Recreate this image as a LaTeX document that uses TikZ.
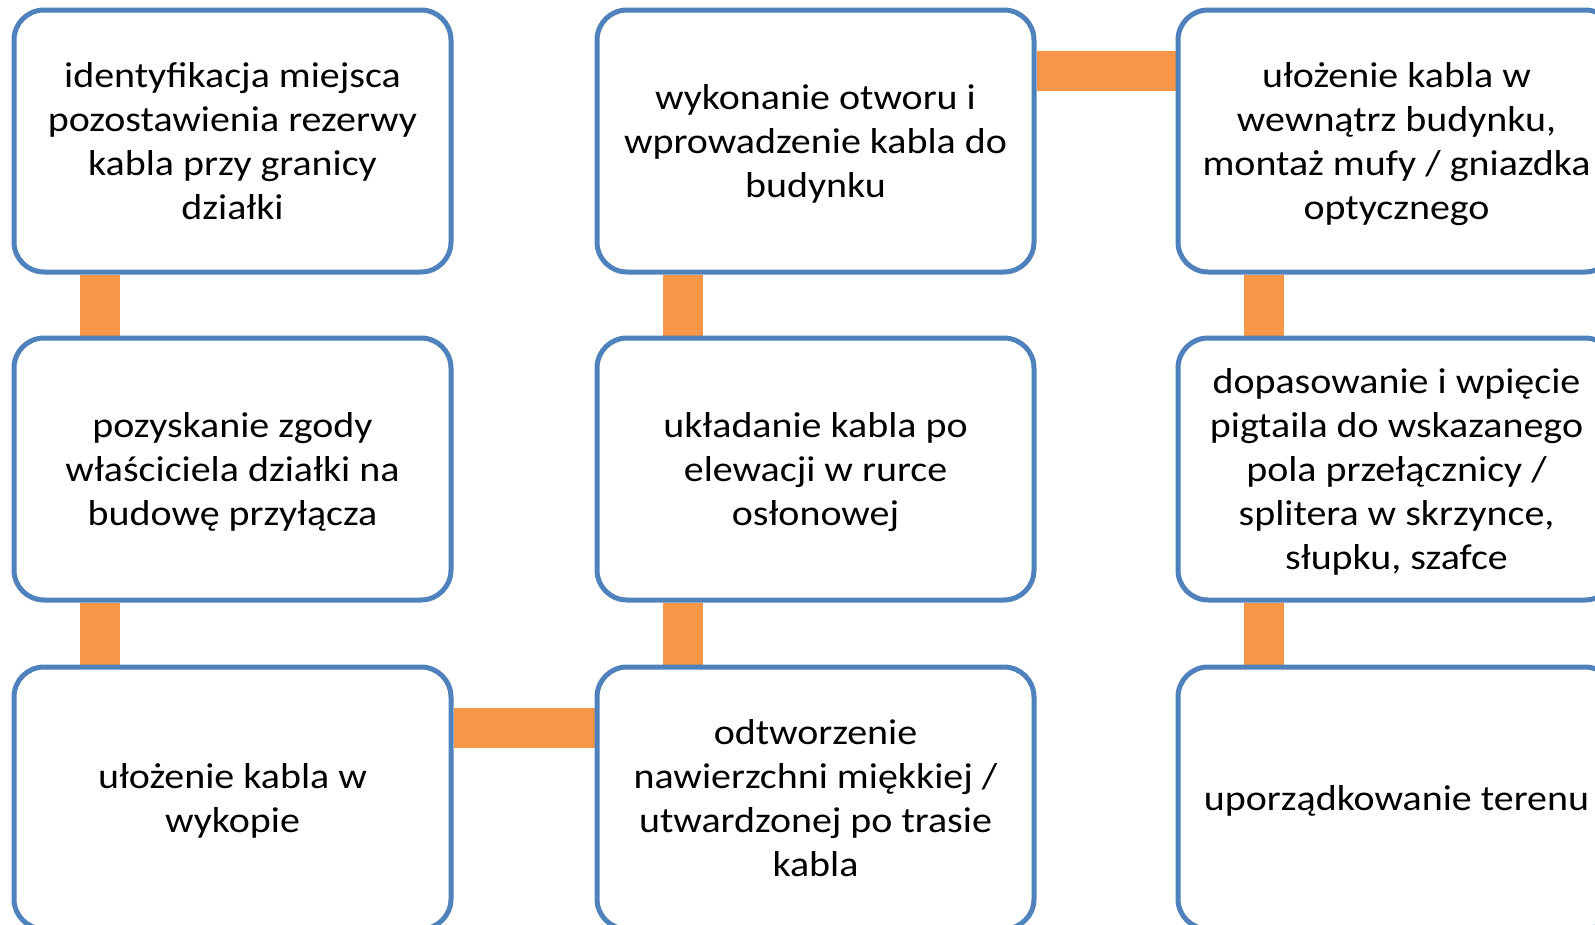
\documentclass[tikz,border=0pt]{standalone}
\usepackage{fontspec}
\setmainfont{Carlito}[FakeStretch=1.11]
\usetikzlibrary{backgrounds}
\definecolor{boxblue}{HTML}{4F81BD}
\definecolor{connorange}{HTML}{F79646}
\newcommand{\tstrut}{\rule{0pt}{37.8pt}}
\begin{document}
\begin{tikzpicture}[x=1pt,y=-1pt,
  stepbox/.style={draw=boxblue, line width=5pt, fill=white, rounded corners=30pt,
    minimum width=437pt, minimum height=262pt, align=center, inner sep=0pt,
    font=\fontsize{36pt}{44pt}\selectfont, text=black},
  conn/.style={draw=connorange, line width=40pt, line cap=butt}]
\useasboundingbox (0,0) rectangle (1595,924);
\clip (0,0) rectangle (1595,924);
\node[stepbox] (a1) at (232.5,141) {\tstrut identyfikacja miejsca\\pozostawienia rezerwy\\kabla przy granicy\\działki\strut};
\node[stepbox] (a2) at (232.5,469) {\tstrut pozyskanie zgody\\właściciela działki na\\budowę przyłącza\strut};
\node[stepbox] (a3) at (232.5,798) {\tstrut ułożenie kabla w\\wykopie\strut};
\node[stepbox] (b1) at (815.5,141) {\tstrut wykonanie otworu i\\wprowadzenie kabla do\\budynku\strut};
\node[stepbox] (b2) at (815.5,469) {\tstrut układanie kabla po\\elewacji w rurce\\osłonowej\strut};
\node[stepbox] (b3) at (815.5,798) {\tstrut odtworzenie\\nawierzchni miękkiej /\\utwardzonej po trasie\\kabla\strut};
\node[stepbox] (c1) at (1396.5,141) {\tstrut ułożenie kabla w\\wewnątrz budynku,\\montaż mufy / gniazdka\\optycznego\strut};
\node[stepbox] (c2) at (1396.5,469) {\tstrut dopasowanie i wpięcie\\pigtaila do wskazanego\\pola przełącznicy /\\splitera w skrzynce,\\słupku, szafce\strut};
\node[stepbox] (c3) at (1396.5,798) {\tstrut uporządkowanie terenu\strut};
\begin{scope}[on background layer]
\draw[conn] ([xshift=88pt]a1.south west) -- ([xshift=88pt]a2.north west);
\draw[conn] ([xshift=88pt]a2.south west) -- ([xshift=88pt]a3.north west);
\draw[conn] ([yshift=-63pt]a3.north east) -- ([yshift=-63pt]b3.north west);
\draw[conn] ([xshift=88pt]b3.north west) -- ([xshift=88pt]b2.south west);
\draw[conn] ([xshift=88pt]b2.north west) -- ([xshift=88pt]b1.south west);
\draw[conn] ([yshift=-63pt]b1.north east) -- ([yshift=-63pt]c1.north west);
\draw[conn] ([xshift=88pt]c1.south west) -- ([xshift=88pt]c2.north west);
\draw[conn] ([xshift=88pt]c2.south west) -- ([xshift=88pt]c3.north west);
\end{scope}
\end{tikzpicture}
\end{document}
